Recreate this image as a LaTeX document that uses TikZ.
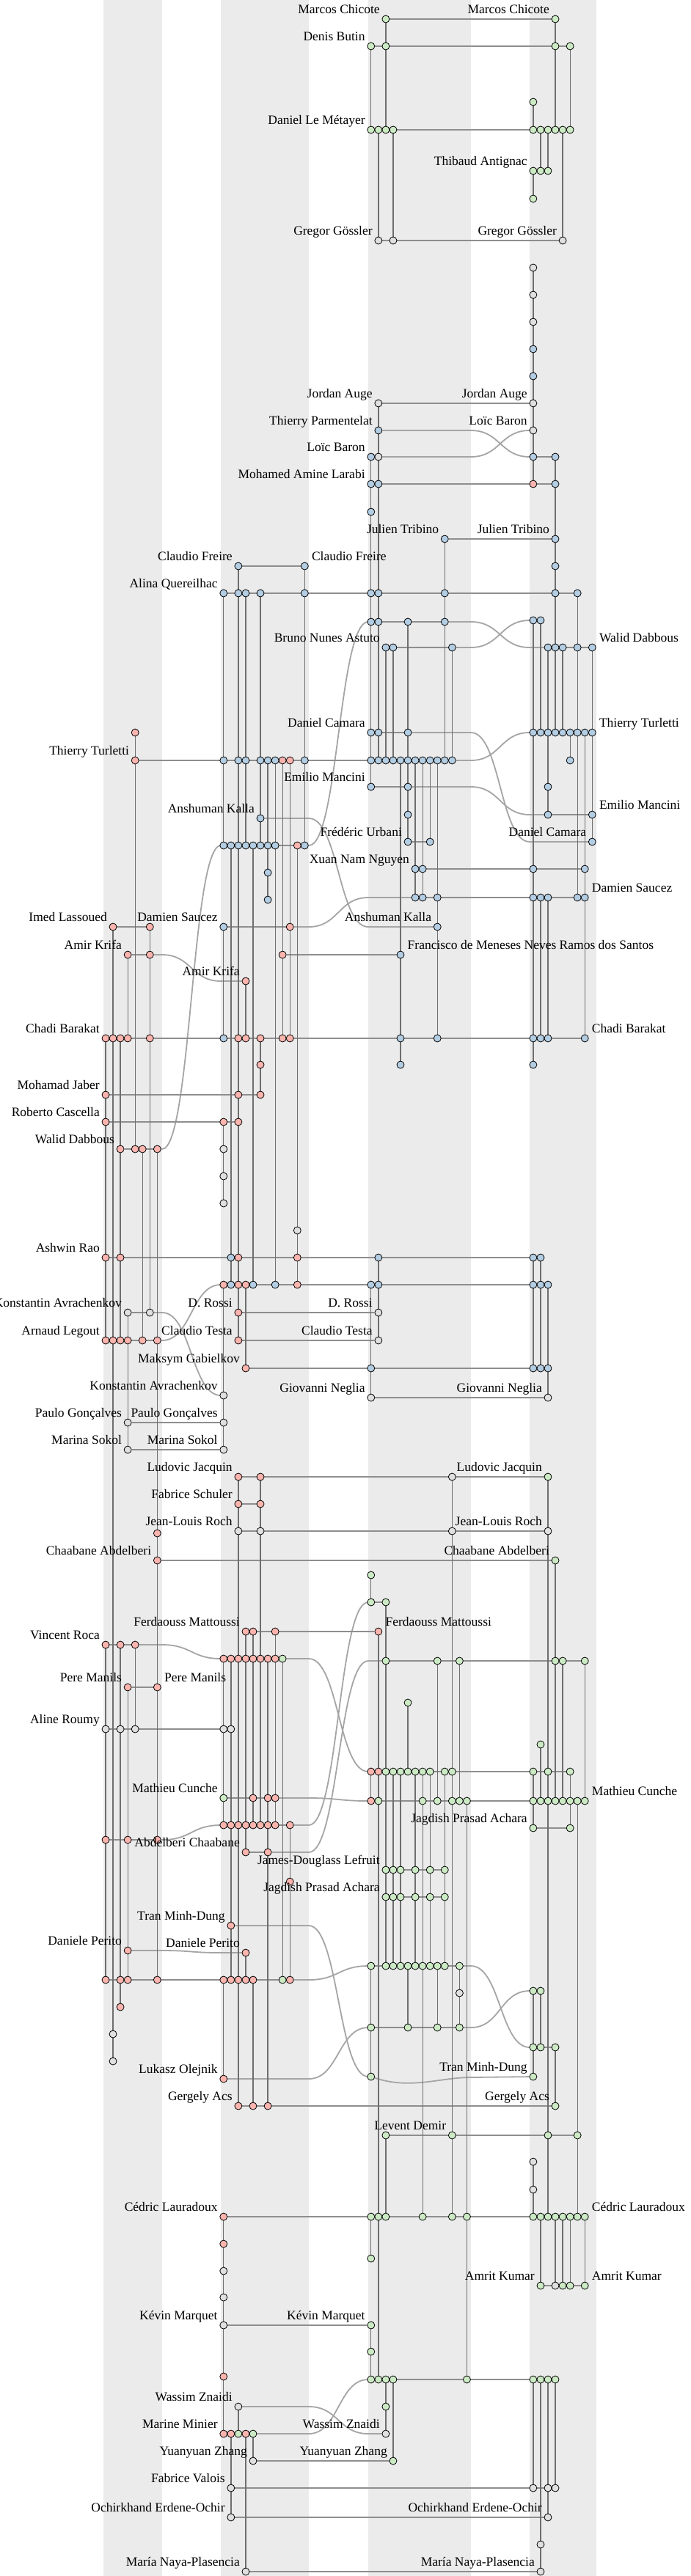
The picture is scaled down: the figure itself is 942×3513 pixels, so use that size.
\documentclass[tikz,border=0pt]{standalone}
\usepackage{fontspec}
\setmainfont{Liberation Serif}
\usetikzlibrary{calc}
\pgfdeclarelayer{bands}
\pgfdeclarelayer{lines}
\pgfsetlayers{bands,lines,main}
\definecolor{cr}{HTML}{FBB4AE}
\definecolor{cb}{HTML}{B3CDE3}
\definecolor{cg}{HTML}{CCEBC5}
\definecolor{cw}{HTML}{E0E0E0}
\definecolor{bandc}{HTML}{EBEBEB}
\definecolor{hlc}{HTML}{8E8E8E}
\definecolor{vlc}{HTML}{6E6E6E}
\definecolor{cvc}{HTML}{A5A5A5}
\tikzset{
  nd/.style={circle,draw=black,line width=0.8pt,minimum size=10pt,inner sep=0pt},
  hl/.style={draw=hlc,line width=2.3pt},
  vl/.style={draw=vlc,line width=1.3pt},
  cv/.style={draw=cvc,line width=1.8pt},
  lbl/.style={inner sep=0pt,font=\fontsize{17.5pt}{21pt}\selectfont}
}
\newcommand\nrow[2]{\foreach \nk/\nc in {#2}{\node[nd,fill=\nc] (n\nk y#1) at ({144+10.05*\nk},#1) {};}}
\newcommand\hrow[3]{\draw[hl] (n#2y#1) -- (n#3y#1);}
\newcommand\vcol[3]{\draw[vl] (n#1y#2) -- (n#1y#3);}
\newcommand\crv[7]{\draw[cv] (n#1y#2) -- (#5,#2) .. controls (#6,#2) and (#6,#4) .. (#7,#4) -- (n#3y#4);}
\newcommand\labl[2]{\node[lbl,anchor=base east] at ([shift={(-8,-7.5)}]#1.center) {#2};}
\newcommand\labr[2]{\node[lbl,anchor=base west] at ([shift={(9.5,-7.5)}]#1.center) {#2};}
\begin{document}
\begin{tikzpicture}[x=1pt,y=-1pt]
\useasboundingbox (0,0) rectangle (942,3513);
% nodes
\nrow{26}{38/cg,61/cg}
\nrow{63}{36/cg,38/cg,61/cg,63/cg}
\nrow{139}{58/cg}
\nrow{177}{36/cg,37/cg,38/cg,39/cg,58/cg,59/cg,60/cg,61/cg,62/cg,63/cg}
\nrow{233}{58/cg,59/cg,60/cg}
\nrow{271}{58/cg}
\nrow{328}{37/cw,39/cw,62/cw}
\nrow{365}{58/cw}
\nrow{402}{58/cw}
\nrow{439}{58/cw}
\nrow{476}{58/cb}
\nrow{513}{58/cb}
\nrow{550}{37/cw,58/cw}
\nrow{587}{37/cb,58/cw}
\nrow{623}{36/cb,37/cw,58/cb,61/cb}
\nrow{660}{36/cb,37/cb,58/cr,61/cb}
\nrow{698}{36/cb}
\nrow{735}{46/cb,61/cb}
\nrow{772}{18/cb,27/cb,61/cb}
\nrow{809}{16/cb,18/cb,19/cb,21/cb,27/cb,36/cb,37/cb,46/cb,61/cb,64/cb}
\nrow{846}{58/cb,59/cb}
\nrow{848}{36/cb,37/cb,41/cb,46/cb}
\nrow{883}{38/cb,39/cb,47/cb,60/cb,61/cb,62/cb,64/cb,66/cb}
\nrow{999}{4/cr,36/cb,37/cb,41/cb,58/cb,59/cb,60/cb,61/cb,62/cb,63/cb,64/cb,65/cb,66/cb}
\nrow{1037}{4/cr,16/cb,18/cb,19/cb,21/cb,22/cb,23/cb,24/cr,25/cr,27/cb,36/cb,37/cb,38/cb,39/cb,40/cb,41/cb,42/cb,43/cb,44/cb,45/cb,46/cb,47/cb,63/cb}
\nrow{1073}{36/cb,41/cb,60/cb}
\nrow{1111}{41/cb,60/cb,66/cb}
\nrow{1116}{21/cb}
\nrow{1148}{41/cb,44/cb,66/cb}
\nrow{1153}{16/cb,17/cb,18/cb,19/cb,20/cb,21/cb,22/cb,23/cb,26/cr,27/cb}
\nrow{1185}{42/cb,43/cb,58/cb,65/cb}
\nrow{1190}{22/cb}
\nrow{1224}{42/cb,43/cb,45/cb,58/cb,59/cb,60/cb,64/cb,65/cb}
\nrow{1227}{22/cb}
\nrow{1264}{1/cr,6/cr,16/cb,25/cr,45/cb}
\nrow{1302}{3/cr,6/cr,24/cr,40/cb}
\nrow{1338}{19/cr}
\nrow{1416}{0/cr,1/cr,2/cr,3/cr,6/cr,16/cb,18/cr,19/cr,21/cr,24/cr,25/cr,40/cb,45/cb,58/cb,59/cb,60/cb,65/cb}
\nrow{1452}{21/cr,40/cb,58/cb}
\nrow{1493}{0/cr,18/cr,21/cr}
\nrow{1530}{0/cr,16/cr,18/cr}
\nrow{1567}{2/cr,4/cr,5/cr,7/cr,16/cw}
\nrow{1604}{16/cw}
\nrow{1641}{16/cw}
\nrow{1678}{26/cw}
\nrow{1715}{0/cr,2/cr,17/cb,18/cr,26/cr,37/cb,58/cb,59/cb}
\nrow{1752}{16/cr,17/cb,18/cr,19/cr,20/cb,23/cb,26/cr,36/cb,37/cb,58/cb,59/cb,60/cb}
\nrow{1790}{3/cw,6/cw,18/cr,37/cw}
\nrow{1828}{0/cr,1/cr,2/cr,3/cr,5/cr,7/cr,18/cr,37/cw}
\nrow{1866}{19/cr,36/cb,58/cb,59/cb,60/cb}
\nrow{1903}{16/cw}
\nrow{1906}{36/cw,60/cw}
\nrow{1940}{3/cw,16/cw}
\nrow{1977}{3/cw,16/cw}
\nrow{2014}{18/cr,21/cr,47/cw,60/cg}
\nrow{2051}{18/cr,21/cr}
\nrow{2088}{18/cw,21/cw,47/cw,60/cw}
\nrow{2091}{7/cr}
\nrow{2128}{7/cr,61/cg}
\nrow{2148}{36/cg}
\nrow{2185}{36/cg,38/cg}
\nrow{2225}{19/cr,20/cr,23/cr,37/cr}
\nrow{2243}{0/cr,2/cr,4/cr}
\nrow{2262}{16/cr,17/cr,18/cr,19/cr,20/cr,21/cr,22/cr,23/cr,24/cg}
\nrow{2265}{38/cg,45/cg,48/cg,61/cg,62/cg,65/cg}
\nrow{2301}{3/cr,7/cr}
\nrow{2322}{41/cg}
\nrow{2358}{0/cw,2/cw,4/cw,16/cw,17/cw}
\nrow{2379}{59/cg}
\nrow{2416}{36/cr,37/cr,38/cg,39/cg,40/cg,41/cg,42/cg,43/cg,44/cg,46/cg,47/cg,58/cg,60/cg,63/cg}
\nrow{2452}{16/cg,20/cr,22/cr,23/cr}
\nrow{2456}{36/cr,37/cg,43/cg,45/cg,47/cg,48/cg,49/cg,58/cg,59/cg,60/cg,61/cg,62/cg,63/cg,64/cg,65/cg}
\nrow{2489}{16/cr,17/cr,18/cr,19/cr,20/cr,21/cr,22/cr,23/cr,25/cr}
\nrow{2493}{58/cg,63/cg}
\nrow{2509}{0/cr,3/cr,7/cr}
\nrow{2526}{19/cr,22/cr}
\nrow{2550}{38/cg,39/cg,40/cg,42/cg,44/cg,46/cg}
\nrow{2566}{25/cr}
\nrow{2587}{38/cg,39/cg,40/cg,42/cg,44/cg,46/cg}
\nrow{2626}{17/cr}
\nrow{2660}{3/cr}
\nrow{2663}{19/cr}
\nrow{2681}{36/cg,38/cg,39/cg,40/cg,41/cg,42/cg,43/cg,44/cg,45/cg,46/cg,48/cg}
\nrow{2700}{0/cr,2/cr,3/cr,7/cr,16/cr,17/cr,18/cr,19/cr,20/cr,24/cg,25/cr}
\nrow{2715}{58/cg,59/cg}
\nrow{2718}{48/cw}
\nrow{2737}{2/cr}
\nrow{2765}{36/cg,41/cg,45/cg,48/cg}
\nrow{2774}{1/cw}
\nrow{2792}{58/cg,59/cg,61/cg}
\nrow{2811}{1/cw}
\nrow{2832}{36/cg,58/cg}
\nrow{2835}{16/cr}
\nrow{2872}{18/cr,20/cr,22/cr,61/cg}
\nrow{2912}{38/cg,47/cg,60/cg,64/cg}
\nrow{2948}{58/cw}
\nrow{2986}{58/cw}
\nrow{3023}{16/cr,36/cg,37/cg,38/cg,43/cg,47/cg,49/cg,58/cg,59/cg,60/cg,61/cg,62/cg,63/cg,64/cg,65/cg}
\nrow{3060}{16/cr}
\nrow{3080}{36/cg}
\nrow{3097}{16/cw}
\nrow{3117}{59/cg,61/cw,62/cg,63/cg,65/cg}
\nrow{3133}{16/cw}
\nrow{3171}{16/cw,36/cg}
\nrow{3207}{36/cg}
\nrow{3241}{16/cr}
\nrow{3245}{36/cg,37/cg,38/cg,39/cg,49/cg,58/cg,59/cg,60/cg,61/cg}
\nrow{3282}{18/cw,38/cg}
\nrow{3319}{16/cr,17/cr,18/cg,19/cr,20/cg,38/cw}
\nrow{3356}{20/cw,39/cg}
\nrow{3393}{17/cw,58/cw,60/cw,61/cw}
\nrow{3433}{17/cw,60/cw}
\nrow{3470}{59/cw}
\nrow{3507}{19/cw,59/cw}
% labels
\labl{n38y26}{Marcos Chicote}
\labl{n61y26}{Marcos Chicote}
\labl{n36y63}{Denis Butin}
\labl{n36y177}{Daniel Le Métayer}
\labl{n58y233}{Thibaud Antignac}
\labl{n37y328}{Gregor Gössler}
\labl{n62y328}{Gregor Gössler}
\labl{n37y550}{Jordan Auge}
\labl{n58y550}{Jordan Auge}
\labl{n37y587}{Thierry Parmentelat}
\labl{n58y587}{Loïc Baron}
\labl{n36y623}{Loïc Baron}
\labl{n36y660}{Mohamed Amine Larabi}
\labl{n46y735}{Julien Tribino}
\labl{n61y735}{Julien Tribino}
\labl{n18y772}{Claudio Freire}
\labr{n27y772}{Claudio Freire}
\labl{n16y809}{Alina Quereilhac}
\labl{n38y883}{Bruno Nunes Astuto}
\labr{n66y883}{Walid Dabbous}
\labl{n36y999}{Daniel Camara}
\labr{n66y999}{Thierry Turletti}
\labl{n4y1037}{Thierry Turletti}
\labl{n36y1073}{Emilio Mancini}
\labr{n66y1111}{Emilio Mancini}
\labl{n21y1116}{Anshuman Kalla}
\labl{n41y1148}{Frédéric Urbani}
\labl{n66y1148}{Daniel Camara}
\labl{n42y1185}{Xuan Nam Nguyen}
\labr{n65y1224}{Damien Saucez}
\labl{n1y1264}{Imed Lassoued}
\labl{n16y1264}{Damien Saucez}
\labl{n45y1264}{Anshuman Kalla}
\labl{n3y1302}{Amir Krifa}
\labr{n40y1302}{Francisco de Meneses Neves Ramos dos Santos}
\labl{n19y1338}{Amir Krifa}
\labl{n0y1416}{Chadi Barakat}
\labr{n65y1416}{Chadi Barakat}
\labl{n0y1493}{Mohamad Jaber}
\labl{n0y1530}{Roberto Cascella}
\labl{n2y1567}{Walid Dabbous}
\labl{n0y1715}{Ashwin Rao}
\labl{n3y1790}{Konstantin Avrachenkov}
\labl{n18y1790}{D. Rossi}
\labl{n37y1790}{D. Rossi}
\labl{n0y1828}{Arnaud Legout}
\labl{n18y1828}{Claudio Testa}
\labl{n37y1828}{Claudio Testa}
\labl{n19y1866}{Maksym Gabielkov}
\labl{n16y1903}{Konstantin Avrachenkov}
\labl{n36y1906}{Giovanni Neglia}
\labl{n60y1906}{Giovanni Neglia}
\labl{n3y1940}{Paulo Gonçalves}
\labl{n16y1940}{Paulo Gonçalves}
\labl{n3y1977}{Marina Sokol}
\labl{n16y1977}{Marina Sokol}
\labl{n18y2014}{Ludovic Jacquin}
\labl{n60y2014}{Ludovic Jacquin}
\labl{n18y2051}{Fabrice Schuler}
\labl{n18y2088}{Jean-Louis Roch}
\labl{n60y2088}{Jean-Louis Roch}
\labl{n7y2128}{Chaabane Abdelberi}
\labl{n61y2128}{Chaabane Abdelberi}
\labl{n19y2225}{Ferdaouss Mattoussi}
\labr{n37y2225}{Ferdaouss Mattoussi}
\labl{n0y2243}{Vincent Roca}
\labl{n3y2301}{Pere Manils}
\labr{n7y2301}{Pere Manils}
\labl{n0y2358}{Aline Roumy}
\labl{n16y2452}{Mathieu Cunche}
\labr{n65y2456}{Mathieu Cunche}
\labl{n58y2493}{Jagdish Prasad Achara}
\labl{n19y2526}{Abdelberi Chaabane}
\labl{n38y2550}{James-Douglass Lefruit}
\labl{n38y2587}{Jagdish Prasad Achara}
\labl{n17y2626}{Tran Minh-Dung}
\labl{n3y2660}{Daniele Perito}
\labl{n19y2663}{Daniele Perito}
\labl{n58y2832}{Tran Minh-Dung}
\labl{n16y2835}{Lukasz Olejnik}
\labl{n18y2872}{Gergely Acs}
\labl{n61y2872}{Gergely Acs}
\labl{n47y2912}{Levent Demir}
\labl{n16y3023}{Cédric Lauradoux}
\labr{n65y3023}{Cédric Lauradoux}
\labl{n59y3117}{Amrit Kumar}
\labr{n65y3117}{Amrit Kumar}
\labl{n16y3171}{Kévin Marquet}
\labl{n36y3171}{Kévin Marquet}
\labl{n18y3282}{Wassim Znaidi}
\labl{n16y3319}{Marine Minier}
\labl{n38y3319}{Wassim Znaidi}
\labl{n20y3356}{Yuanyuan Zhang}
\labl{n39y3356}{Yuanyuan Zhang}
\labl{n17y3393}{Fabrice Valois}
\labl{n17y3433}{Ochirkhand Erdene-Ochir}
\labl{n60y3433}{Ochirkhand Erdene-Ochir}
\labl{n19y3507}{María Naya-Plasencia}
\labl{n59y3507}{María Naya-Plasencia}
\begin{pgfonlayer}{lines}
% curves
\crv{37}{587}{58}{623}{642}{682}{722}
\crv{37}{623}{58}{587}{642}{682}{722}
\crv{46}{848}{60}{883}{642}{682}{722}
\crv{47}{883}{58}{846}{642}{682}{722}
\crv{27}{1153}{36}{848}{421}{461.5}{502}
\crv{41}{999}{66}{1148}{642}{682}{722}
\crv{47}{1037}{58}{999}{642}{682}{722}
\crv{41}{1073}{60}{1111}{642}{682}{722}
\crv{21}{1116}{45}{1264}{421}{461.5}{502}
\crv{7}{1567}{16}{1153}{221}{261}{301}
\crv{6}{1302}{19}{1338}{221}{261}{301}
\crv{25}{1264}{42}{1224}{421}{461.5}{502}
\crv{6}{1790}{16}{1903}{221}{261}{301}
\crv{7}{1828}{16}{1752}{221}{261}{301}
\crv{4}{2243}{16}{2262}{221}{261}{301}
\crv{24}{2262}{36}{2416}{421}{461.5}{502}
\crv{25}{2489}{36}{2185}{421}{461.5}{502}
\crv{22}{2526}{38}{2265}{421}{461.5}{502}
\crv{23}{2452}{36}{2456}{421}{461.5}{502}
\crv{7}{2509}{16}{2489}{221}{261}{301}
\crv{17}{2626}{36}{2832}{421}{461.5}{502}
\crv{3}{2660}{19}{2663}{221}{261}{301}
\crv{48}{2681}{58}{2792}{642}{682}{722}
\crv{25}{2700}{36}{2681}{421}{461.5}{502}
\crv{48}{2765}{58}{2715}{642}{682}{722}
\crv{16}{2835}{36}{2765}{421}{461.5}{502}
\draw[cv] (n36y2832) .. controls (560,2850) and (600,2833) .. (642,2833) -- (n58y2832);
\crv{18}{3282}{38}{3319}{421}{461.5}{502}
\crv{20}{3319}{36}{3245}{421}{461.5}{502}
% rows
\hrow{26}{38}{61}
\hrow{63}{36}{63}
\hrow{177}{36}{63}
\hrow{233}{58}{60}
\hrow{328}{37}{62}
\hrow{550}{37}{58}
\hrow{623}{36}{37}\hrow{623}{58}{61}
\hrow{660}{36}{61}
\hrow{735}{46}{61}
\hrow{772}{18}{27}
\hrow{809}{16}{64}
\hrow{846}{58}{59}
\hrow{848}{36}{46}
\hrow{883}{38}{47}\hrow{883}{60}{66}
\hrow{999}{36}{41}\hrow{999}{58}{66}
\hrow{1037}{4}{47}
\hrow{1073}{36}{41}
\hrow{1111}{60}{66}
\hrow{1148}{41}{44}
\hrow{1153}{16}{27}
\hrow{1185}{42}{65}
\hrow{1224}{42}{65}
\hrow{1264}{1}{6}\hrow{1264}{16}{25}
\hrow{1302}{3}{6}\hrow{1302}{24}{40}
\hrow{1416}{0}{65}
\hrow{1493}{0}{21}
\hrow{1530}{0}{18}
\hrow{1567}{2}{7}
\hrow{1715}{0}{59}
\hrow{1752}{16}{60}
\hrow{1790}{3}{6}\hrow{1790}{18}{37}
\hrow{1828}{0}{7}\hrow{1828}{18}{37}
\hrow{1866}{19}{60}
\hrow{1906}{36}{60}
\hrow{1940}{3}{16}
\hrow{1977}{3}{16}
\hrow{2014}{18}{60}
\hrow{2051}{18}{21}
\hrow{2088}{18}{60}
\hrow{2128}{7}{61}
\hrow{2185}{36}{38}
\hrow{2225}{19}{37}
\hrow{2243}{0}{4}
\hrow{2262}{16}{24}
\hrow{2265}{38}{65}
\hrow{2301}{3}{7}
\hrow{2358}{0}{17}
\hrow{2416}{36}{63}
\hrow{2452}{16}{23}
\hrow{2456}{36}{65}
\hrow{2489}{16}{25}
\hrow{2493}{58}{63}
\hrow{2509}{0}{7}
\hrow{2526}{19}{22}
\hrow{2550}{38}{46}
\hrow{2587}{38}{46}
\hrow{2681}{36}{48}
\hrow{2700}{0}{25}
\hrow{2715}{58}{59}
\hrow{2765}{36}{48}
\hrow{2792}{58}{61}
\hrow{2872}{18}{61}
\hrow{2912}{38}{64}
\hrow{3023}{16}{65}
\hrow{3117}{59}{65}
\hrow{3171}{16}{36}
\hrow{3245}{36}{61}
\hrow{3319}{16}{20}
\hrow{3356}{20}{39}
\hrow{3393}{17}{61}
\hrow{3433}{17}{60}
\hrow{3507}{19}{59}
% columns
\vcol{0}{1416}{1828}\vcol{0}{2243}{2700}
\vcol{1}{1264}{2811}
\vcol{2}{1416}{1828}\vcol{2}{2243}{2737}
\vcol{3}{1302}{1416}\vcol{3}{1790}{1977}\vcol{3}{2301}{2700}
\vcol{4}{999}{1567}\vcol{4}{2243}{2358}
\vcol{5}{1567}{1828}
\vcol{6}{1264}{1790}
\vcol{7}{1567}{2700}
\vcol{16}{809}{1153}\vcol{16}{1264}{1416}\vcol{16}{1530}{1641}\vcol{16}{1752}{1977}\vcol{16}{2262}{2489}\vcol{16}{2700}{2835}\vcol{16}{3023}{3319}
\vcol{17}{1153}{1752}\vcol{17}{2262}{2700}\vcol{17}{3319}{3433}
\vcol{18}{772}{1828}\vcol{18}{2014}{2872}\vcol{18}{3282}{3319}
\vcol{19}{809}{1153}\vcol{19}{1338}{1416}\vcol{19}{1752}{1866}\vcol{19}{2225}{2526}\vcol{19}{2663}{2700}\vcol{19}{3319}{3507}
\vcol{20}{1153}{1752}\vcol{20}{2225}{2489}\vcol{20}{2700}{2872}\vcol{20}{3319}{3356}
\vcol{21}{809}{1153}\vcol{21}{1416}{1493}\vcol{21}{2014}{2489}
\vcol{22}{1037}{1227}\vcol{22}{2262}{2872}
\vcol{23}{1037}{1752}\vcol{23}{2225}{2489}
\vcol{24}{1037}{1416}\vcol{24}{2262}{2700}
\vcol{25}{1037}{1416}\vcol{25}{2489}{2700}
\vcol{26}{1153}{1752}
\vcol{27}{772}{1153}
\vcol{36}{63}{177}\vcol{36}{623}{1073}\vcol{36}{1752}{1906}\vcol{36}{2148}{2185}\vcol{36}{2416}{2456}\vcol{36}{2681}{2832}\vcol{36}{3023}{3080}\vcol{36}{3171}{3245}
\vcol{37}{177}{328}\vcol{37}{550}{1037}\vcol{37}{1715}{1828}\vcol{37}{2225}{3245}
\vcol{38}{26}{177}\vcol{38}{883}{1037}\vcol{38}{2185}{2681}\vcol{38}{2912}{3023}\vcol{38}{3245}{3319}
\vcol{39}{177}{328}\vcol{39}{883}{1037}\vcol{39}{2416}{2681}\vcol{39}{3245}{3356}
\vcol{40}{1037}{1452}\vcol{40}{2416}{2681}
\vcol{41}{848}{1148}\vcol{41}{2322}{2416}\vcol{41}{2681}{2765}
\vcol{42}{1037}{1224}\vcol{42}{2416}{2681}
\vcol{43}{1037}{1224}\vcol{43}{2416}{3023}
\vcol{44}{1037}{1148}\vcol{44}{2416}{2681}
\vcol{45}{1037}{1416}\vcol{45}{2265}{2456}\vcol{45}{2681}{2765}
\vcol{46}{735}{1037}\vcol{46}{2416}{2681}
\vcol{47}{883}{1037}\vcol{47}{2014}{3023}
\vcol{48}{2265}{2456}\vcol{48}{2681}{2765}
\vcol{49}{2456}{3245}
\vcol{58}{139}{177}\vcol{58}{233}{271}\vcol{58}{365}{660}\vcol{58}{846}{1452}\vcol{58}{1715}{1866}\vcol{58}{2416}{2493}\vcol{58}{2715}{2832}\vcol{58}{2948}{3023}\vcol{58}{3245}{3393}
\vcol{59}{177}{233}\vcol{59}{846}{999}\vcol{59}{1224}{1416}\vcol{59}{1715}{1866}\vcol{59}{2379}{2456}\vcol{59}{2715}{2792}\vcol{59}{3023}{3117}\vcol{59}{3245}{3507}
\vcol{60}{177}{233}\vcol{60}{883}{1111}\vcol{60}{1224}{1416}\vcol{60}{1752}{1906}\vcol{60}{2014}{3023}\vcol{60}{3245}{3433}
\vcol{61}{26}{177}\vcol{61}{623}{999}\vcol{61}{2128}{2456}\vcol{61}{2792}{2872}\vcol{61}{3023}{3117}\vcol{61}{3245}{3393}
\vcol{62}{177}{328}\vcol{62}{883}{999}\vcol{62}{2265}{2456}\vcol{62}{3023}{3117}
\vcol{63}{63}{177}\vcol{63}{999}{1037}\vcol{63}{2416}{2493}\vcol{63}{3023}{3117}
\vcol{64}{809}{1224}\vcol{64}{2456}{3023}
\vcol{65}{999}{1416}\vcol{65}{2265}{2456}\vcol{65}{3023}{3117}
\vcol{66}{883}{1148}
\end{pgfonlayer}
\begin{pgfonlayer}{bands}
\fill[white] (0,0) rectangle (942,3513);
\fill[bandc] (140.5,0) rectangle (220.7,3513);
\fill[bandc] (301,0) rectangle (421,3513);
\fill[bandc] (502,0) rectangle (642,3513);
\fill[bandc] (722,0) rectangle (813,3513);
\end{pgfonlayer}
\end{tikzpicture}
\end{document}
